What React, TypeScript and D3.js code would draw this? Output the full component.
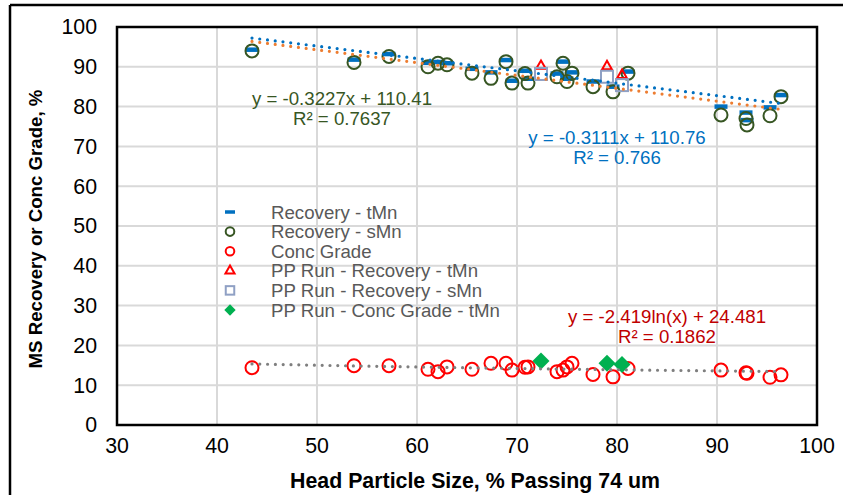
import * as d3 from 'd3';

// head particle size (% passing 74 um) for the regular runs
const headSize = [43.5, 53.7, 57.2, 61.1, 62.1, 63.0, 65.5, 67.4, 68.9, 69.5, 70.8, 71.1, 74.0, 74.6, 75.0, 75.5, 77.6, 79.6, 81.1, 90.4, 92.9, 93.0, 95.3, 96.4];
const recoveryTMn = [94.3, 91.8, 93.2, 91.0, 91.2, 90.9, 89.5, 88.6, 91.7, 86.5, 89.0, 87.0, 88.3, 91.3, 87.0, 88.6, 86.3, 85.0, 88.8, 80.0, 78.5, 76.6, 79.8, 82.9];
const recoverySMn = [94.0, 91.1, 92.6, 90.0, 90.9, 90.5, 88.4, 87.1, 91.3, 85.9, 88.3, 85.9, 87.5, 90.9, 86.3, 88.4, 85.0, 83.7, 88.4, 77.9, 77.0, 75.4, 77.7, 82.5];
const concGrade = [14.4, 14.9, 14.9, 14.0, 13.4, 14.6, 14.0, 15.5, 15.5, 13.8, 14.5, 14.6, 13.4, 13.8, 14.6, 15.5, 12.7, 12.1, 14.2, 13.8, 13.1, 13.0, 12.0, 12.6];

// pilot plant runs
const ppHeadSize = [72.4, 79.0, 80.5];
const ppRecoveryTMn = [90.2, 90.1, 87.9];
const ppRecoverySMn = [88.2, 87.5, 85.4];
const ppConcGrade = [16.1, 15.5, 15.2];

const xTicks = [30, 40, 50, 60, 70, 80, 90, 100];
const yTicks = [0, 10, 20, 30, 40, 50, 60, 70, 80, 90, 100];

const legendLabels = [
    'Recovery - tMn',
    'Recovery - sMn',
    'Conc Grade',
    'PP Run - Recovery - tMn',
    'PP Run - Recovery - sMn',
    'PP Run - Conc Grade - tMn',
];

const W = 843, H = 495;
const FONT = '"Liberation Sans", Arial, sans-serif';
const FS = 18.67;     // 14pt: legend, equations, y title
const FS_AX = 21.33;  // 16pt: tick labels, x title

const BLUE = '#0070c0';
const ORANGE = '#ed7d31';
const GREEN_DARK = '#375623';
const RED = '#ff0000';
const SLATE = '#8fa0c4';
const GREEN = '#00b050';

const x = d3.scaleLinear().domain([30, 100]).range([117, 817]);
const y = d3.scaleLinear().domain([0, 100]).range([425, 27]);

function Dash({ cx, cy, w = 13, h = 4.5 }: { cx: number; cy: number; w?: number; h?: number }) {
    return <rect x={cx - w / 2} y={cy - h / 2} width={w} height={h} fill={BLUE} />;
}
function Ring({ cx, cy, r, color }: { cx: number; cy: number; r: number; color: string }) {
    return <circle cx={cx} cy={cy} r={r} fill="none" stroke={color} strokeWidth={2} />;
}
function Tri({ cx, cy, s }: { cx: number; cy: number; s: number }) {
    const p = d3.symbol(d3.symbolTriangle, s)()!;
    return <path d={p} transform={`translate(${cx},${cy})`} fill="none" stroke={RED} strokeWidth={2} />;
}
function Sq({ cx, cy, s }: { cx: number; cy: number; s: number }) {
    return <rect x={cx - s / 2} y={cy - s / 2} width={s} height={s} fill="none" stroke={SLATE} strokeWidth={2} />;
}
function Dia({ cx, cy, s }: { cx: number; cy: number; s: number }) {
    return <rect x={-s / 2} y={-s / 2} width={s} height={s} fill={GREEN}
        transform={`translate(${cx},${cy}) rotate(45)`} />;
}

export default function App() {
    const x0 = d3.min(headSize)!, x1 = d3.max(headSize)!;
    const xs = d3.range(x0, x1, 0.5).concat([x1]);
    const line = d3.line<[number, number]>().x(d => x(d[0])).y(d => y(d[1]));
    const trendTMn = line(xs.map(v => [v, -0.3111 * v + 110.76]));
    const trendSMn = line(xs.map(v => [v, -0.3227 * v + 110.41]));
    const trendConc = line(xs.map(v => [v, -2.419 * Math.log(v) + 24.481]));

    const dotted = { fill: 'none', strokeWidth: 3.2, strokeLinecap: 'round' as const, strokeDasharray: '0 7.8' };

    const legX = 230, legTextX = 271, legY0 = 212, legStep = 19.6;

    return (
        <svg width={W} height={H} style={{ position: 'absolute', left: 0, top: 0, background: '#fff' }}
            fontFamily={FONT}>
            <rect width={W} height={H} fill="#fff" />
            {/* outer frame */}
            <line x1={10} x2={W} y1={5} y2={5} stroke="#000" strokeWidth={2.5} />
            <line x1={10} x2={10} y1={5} y2={H} stroke="#000" strokeWidth={2.5} />

            {/* grid */}
            {yTicks.slice(1, -1).map(t => (
                <line key={'gy' + t} x1={x(30)} x2={x(100)} y1={y(t)} y2={y(t)} stroke="#d9d9d9" strokeWidth={2} />
            ))}
            {xTicks.slice(1, -1).map(t => (
                <line key={'gx' + t} x1={x(t)} x2={x(t)} y1={y(0)} y2={y(100)} stroke="#d9d9d9" strokeWidth={2} />
            ))}

            {/* regular runs */}
            {headSize.map((v, i) => <Dash key={'t' + i} cx={x(v)} cy={y(recoveryTMn[i])} />)}
            {headSize.map((v, i) => <Ring key={'s' + i} cx={x(v)} cy={y(recoverySMn[i])} r={6.5} color={GREEN_DARK} />)}
            {headSize.map((v, i) => <Ring key={'c' + i} cx={x(v)} cy={y(concGrade[i])} r={6.5} color={RED} />)}

            {/* pilot plant runs */}
            {ppHeadSize.map((v, i) => <Tri key={'pt' + i} cx={x(v)} cy={y(ppRecoveryTMn[i])} s={40} />)}
            {ppHeadSize.map((v, i) => <Sq key={'ps' + i} cx={x(v)} cy={y(ppRecoverySMn[i])} s={12} />)}
            {ppHeadSize.map((v, i) => <Dia key={'pc' + i} cx={x(v)} cy={y(ppConcGrade[i])} s={12} />)}

            {/* trend lines */}
            <path d={trendTMn!} stroke={BLUE} {...dotted} />
            <path d={trendSMn!} stroke={ORANGE} {...dotted} />
            <path d={trendConc!} stroke="#7f7f7f" {...dotted} />

            {/* plot border */}
            <rect x={x(30)} y={y(100)} width={x(100) - x(30)} height={y(0) - y(100)}
                fill="none" stroke="#000" strokeWidth={2.5} />

            {/* axes labels */}
            {yTicks.map(t => (
                <text key={'ly' + t} x={97} y={y(t)} dy="0.35em" textAnchor="end" fontSize={FS_AX} fill="#000">{t}</text>
            ))}
            {xTicks.map(t => (
                <text key={'lx' + t} x={x(t)} y={453} textAnchor="middle" fontSize={FS_AX} fill="#000">{t}</text>
            ))}
            <text x={475} y={488} textAnchor="middle" fontSize={FS_AX} fontWeight="bold" fill="#000">
                Head Particle Size, % Passing 74 um
            </text>
            <text transform="translate(42,229) rotate(-90)" textAnchor="middle" fontSize={FS} fontWeight="bold" fill="#000">
                MS Recovery or Conc Grade, %
            </text>

            {/* trend equations */}
            <g fontSize={FS} textAnchor="middle">
                <text x={342} y={105} fill={GREEN_DARK}>y = -0.3227x + 110.41</text>
                <text x={342} y={125} fill={GREEN_DARK}>R² = 0.7637</text>
                <text x={617} y={144} fill={BLUE}>y = -0.3111x + 110.76</text>
                <text x={617} y={164} fill={BLUE}>R² = 0.766</text>
                <text x={667} y={323} fill="#c00000">y = -2.419ln(x) + 24.481</text>
                <text x={667} y={343} fill="#c00000">R² = 0.1862</text>
            </g>

            {/* legend */}
            <g>
                <Dash cx={legX} cy={legY0} w={10} h={3.5} />
                <Ring cx={legX} cy={legY0 + legStep} r={4.3} color={GREEN_DARK} />
                <Ring cx={legX} cy={legY0 + legStep * 2} r={4.3} color={RED} />
                <Tri cx={legX} cy={legY0 + legStep * 3} s={36} />
                <Sq cx={legX} cy={legY0 + legStep * 4} s={8.5} />
                <Dia cx={legX} cy={legY0 + legStep * 5} s={8} />
                {legendLabels.map((l, i) => (
                    <text key={l} x={legTextX} y={legY0 + legStep * i} dy="0.35em" fontSize={FS} fill="#595959">{l}</text>
                ))}
            </g>
        </svg>
    );
}
